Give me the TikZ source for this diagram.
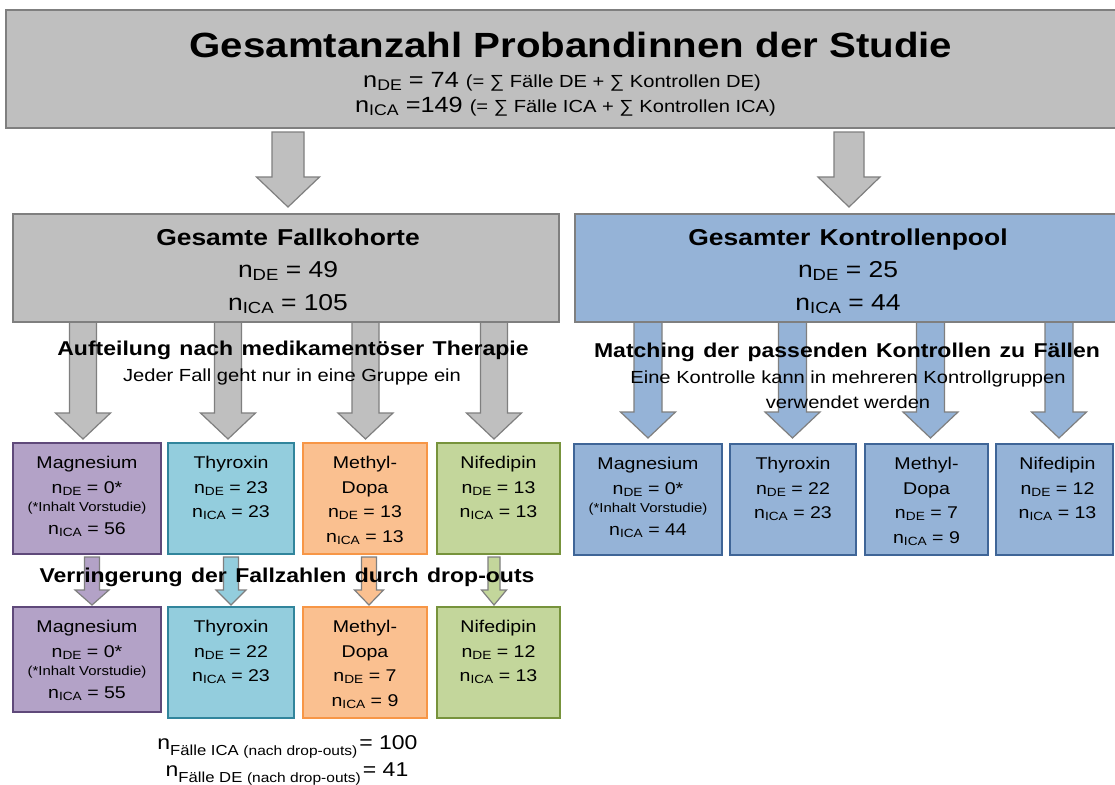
\documentclass[tikz,border=0pt]{standalone}
\usepackage{fontspec}
\setmainfont{Liberation Sans}[FakeStretch=1.15]
\usetikzlibrary{calc}
\pgfdeclarelayer{bg}
\pgfsetlayers{bg,main}
\definecolor{gfill}{HTML}{BFBFBF}
\definecolor{gline}{HTML}{7F7F7F}
\definecolor{bfill}{HTML}{95B3D7}
\definecolor{bline}{HTML}{3F6597}
\definecolor{pfill}{HTML}{B3A2C7}
\definecolor{pline}{HTML}{5F497A}
\definecolor{tfill}{HTML}{93CDDD}
\definecolor{tline}{HTML}{31859C}
\definecolor{ofill}{HTML}{FAC090}
\definecolor{oline}{HTML}{F79646}
\definecolor{lfill}{HTML}{C3D69B}
\definecolor{lline}{HTML}{77933C}
\newcommand{\fs}[2]{\fontsize{#1}{#2}\selectfont}
\newcommand{\sbs}[1]{\raisebox{-0.14em}{\scalebox{0.7}{#1}}}
% block arrow: style, x, start node anchor, end node anchor, start gap, end gap, shaft half, head half, head length
\newcommand{\blockarr}[9]{%
  \path[#1] let \p1=(#3), \p2=(#4) in
    ({#2pt-#7pt},{\y1-#5pt}) -- ({#2pt+#7pt},{\y1-#5pt})
    -- ({#2pt+#7pt},{\y2+#6pt+#9pt}) -- ({#2pt+#8pt},{\y2+#6pt+#9pt})
    -- ({#2pt},{\y2+#6pt}) -- ({#2pt-#8pt},{\y2+#6pt+#9pt})
    -- ({#2pt-#7pt},{\y2+#6pt+#9pt}) -- cycle;}
\begin{document}
\begin{tikzpicture}[x=1pt,y=-1pt,
  bigbox/.style={draw=gline, line width=2.8pt, outer sep=0pt, inner sep=0pt, anchor=north west},
  cbox/.style={line width=2.6pt, outer sep=0pt, inner sep=0pt, anchor=north west, minimum height=111pt},
  pbox/.style={cbox, fill=pfill, draw=pline},
  tbox/.style={cbox, fill=tfill, draw=tline},
  obox/.style={cbox, fill=ofill, draw=oline},
  lbox/.style={cbox, fill=lfill, draw=lline},
  kbox/.style={cbox, fill=bfill, draw=bline},
  btxt/.style={anchor=north, align=center, inner sep=0pt, font=\fs{17}{24.5}},
  head/.style={inner sep=0pt, font={\fs{20}{24}\bfseries\spaceskip=0.42em\relax}},
  garr/.style={fill=gfill, draw=gline, line width=1.2pt},
  barr/.style={fill=bfill, draw=gline, line width=1.2pt},
  parr/.style={fill=pfill, draw=gline, line width=1.2pt},
  tarr/.style={fill=tfill, draw=gline, line width=1.2pt},
  oarr/.style={fill=ofill, draw=gline, line width=1.2pt},
  larr/.style={fill=lfill, draw=gline, line width=1.2pt}]
\useasboundingbox (0,0) rectangle (1115,784);
\clip (0,0) rectangle (1115,784);

% main boxes
\node[bigbox, fill=gfill, minimum width=1125pt, minimum height=118pt] (gesamt) at (6,10) {};
\node[bigbox, fill=gfill, minimum width=546pt, minimum height=108pt] (fall) at (13,214) {};
\node[bigbox, fill=bfill, minimum width=560pt, minimum height=108pt] (pool) at (575,214) {};

% row 1 (cases)
\node[pbox, minimum width=148pt] (mg1) at (13,443) {};
\node[tbox, minimum width=126pt] (th1) at (168,443) {};
\node[obox, minimum width=124pt] (md1) at (303,443) {};
\node[lbox, minimum width=123pt] (nf1) at (437,443) {};
% row 2 (after drop-outs)
\node[pbox, minimum width=148pt, minimum height=105pt] (mg2) at (13,607) {};
\node[tbox, minimum width=126pt] (th2) at (168,607) {};
\node[obox, minimum width=124pt] (md2) at (303,607) {};
\node[lbox, minimum width=123pt] (nf2) at (437,607) {};
% controls
\node[kbox, minimum width=148pt] (mgk) at (574,444) {};
\node[kbox, minimum width=126pt] (thk) at (730,444) {};
\node[kbox, minimum width=123pt] (mdk) at (865,444) {};
\node[kbox, minimum width=117pt] (nfk) at (996,444) {};

% background and arrows
\begin{pgfonlayer}{bg}
\fill[white] (0,0) rectangle (1115,784);
\blockarr{garr}{288}{gesamt.south}{fall.north}{4}{7}{16}{31.5}{30}
\blockarr{garr}{849}{gesamt.south}{pool.north}{4}{7}{15}{31}{30}
\blockarr{garr}{83}{fall.south}{mg1.north}{0}{4}{13.5}{27.5}{26}
\blockarr{garr}{228}{fall.south}{th1.north}{0}{4}{13.5}{27.5}{26}
\blockarr{garr}{365.5}{fall.south}{md1.north}{0}{4}{13.5}{27.5}{26}
\blockarr{garr}{494}{fall.south}{nf1.north}{0}{4}{13.5}{27.5}{26}
\blockarr{barr}{648}{pool.south}{mgk.north}{0}{6}{14}{27.5}{26}
\blockarr{barr}{792.5}{pool.south}{thk.north}{0}{6}{14}{27.5}{26}
\blockarr{barr}{930.5}{pool.south}{mdk.north}{0}{6}{14}{27.5}{26}
\blockarr{barr}{1059}{pool.south}{nfk.north}{0}{6}{14}{27.5}{26}
\blockarr{parr}{92}{mg1.south}{mg2.north}{3}{2}{7.5}{17}{15}
\blockarr{tarr}{231}{th1.south}{th2.north}{3}{2}{7.5}{15}{15}
\blockarr{oarr}{369}{md1.south}{md2.north}{3}{2}{7.5}{14.5}{15}
\blockarr{larr}{494}{nf1.south}{nf2.north}{3}{2}{6}{12.5}{15}
\end{pgfonlayer}

% top texts
\node[inner sep=0pt, font=\fs{35}{40}\bfseries] (gtitle) at (571,45) {Gesamtanzahl Probandinnen der Studie};
\node[inner sep=0pt, font=\fs{22}{25}] (gde) at (562,82) {n\sbs{DE} = 74 {\fs{17.5}{25}(= ∑ Fälle DE + ∑ Kontrollen DE)}};
\node[inner sep=0pt, font=\fs{22}{25}] (gica) at (565.5,107) {n\sbs{ICA} =149 {\fs{17.5}{25}(= ∑ Fälle ICA + ∑ Kontrollen ICA)}};

\node[inner sep=0pt, align=center, font=\fs{23}{32.5}] (fallt) at (288,271) {{\bfseries Gesamte\hspace{0.4em}Fallkohorte}\\n\sbs{DE} = 49\\n\sbs{ICA} = 105};
\node[inner sep=0pt, align=center, font=\fs{23}{32.5}] (poolt) at (848,271) {{\bfseries Gesamter\hspace{0.4em}Kontrollenpool}\\n\sbs{DE} = 25\\n\sbs{ICA} = 44};

\node[head] (aufteil) at (293,350) {Aufteilung nach medikamentöser Therapie};
\node[inner sep=0pt, font=\fs{17.5}{24}] (jeder) at (292,377) {Jeder Fall geht nur in eine Gruppe ein};
\node[head] (matching) at (847,352) {Matching der passenden Kontrollen zu Fällen};
\node[inner sep=0pt, align=center, font=\fs{17.5}{25}] (eine) at (848,389.5) {Eine Kontrolle kann in mehreren Kontrollgruppen\\verwendet werden};
\node[head] (verr) at (287,577) {Verringerung der Fallzahlen durch drop-outs};

% box texts row 1
\node[btxt] (mg1t) at ($(mg1.north)+(0,13)$) {Magnesium\\n\sbs{DE} = 0*\\[-6.5pt]{\fs{13}{24.5}(*Inhalt Vorstudie)}\\[-1.5pt]n\sbs{ICA} = 56};
\node[btxt] (th1t) at ($(th1.north)+(0,13)$) {Thyroxin\\n\sbs{DE} = 23\\n\sbs{ICA} = 23};
\node[btxt] (md1t) at ($(md1.north)+(0,13)$) {Methyl-\\Dopa\\n\sbs{DE} = 13\\n\sbs{ICA} = 13};
\node[btxt] (nf1t) at ($(nf1.north)+(0,13)$) {Nifedipin\\n\sbs{DE} = 13\\n\sbs{ICA} = 13};
% row 2
\node[btxt] (mg2t) at ($(mg2.north)+(0,13)$) {Magnesium\\n\sbs{DE} = 0*\\[-6.5pt]{\fs{13}{24.5}(*Inhalt Vorstudie)}\\[-1.5pt]n\sbs{ICA} = 55};
\node[btxt] (th2t) at ($(th2.north)+(0,13)$) {Thyroxin\\n\sbs{DE} = 22\\n\sbs{ICA} = 23};
\node[btxt] (md2t) at ($(md2.north)+(0,13)$) {Methyl-\\Dopa\\n\sbs{DE} = 7\\n\sbs{ICA} = 9};
\node[btxt] (nf2t) at ($(nf2.north)+(0,13)$) {Nifedipin\\n\sbs{DE} = 12\\n\sbs{ICA} = 13};
% controls
\node[btxt] (mgkt) at ($(mgk.north)+(0,13)$) {Magnesium\\n\sbs{DE} = 0*\\[-6.5pt]{\fs{13}{24.5}(*Inhalt Vorstudie)}\\[-1.5pt]n\sbs{ICA} = 44};
\node[btxt] (thkt) at ($(thk.north)+(0,13)$) {Thyroxin\\n\sbs{DE} = 22\\n\sbs{ICA} = 23};
\node[btxt] (mdkt) at ($(mdk.north)+(0,13)$) {Methyl-\\Dopa\\n\sbs{DE} = 7\\n\sbs{ICA} = 9};
\node[btxt] (nfkt) at ($(nfk.north)+(3,13)$) {Nifedipin\\n\sbs{DE} = 12\\n\sbs{ICA} = 13};

% totals
\node[anchor=base, inner sep=0pt] (sumica) at (287.5,749) {\fs{20}{24}n\raisebox{-6.5pt}{\fs{14.5}{16}Fälle ICA {\fs{13.5}{16}(nach drop-outs)}}\hspace{2pt}= 100};
\node[anchor=base, inner sep=0pt] (sumde) at (287,776) {\fs{20}{24}n\raisebox{-6.5pt}{\fs{14.5}{16}Fälle DE {\fs{13.5}{16}(nach drop-outs)}}\hspace{2pt}= 41};
\end{tikzpicture}
\end{document}
